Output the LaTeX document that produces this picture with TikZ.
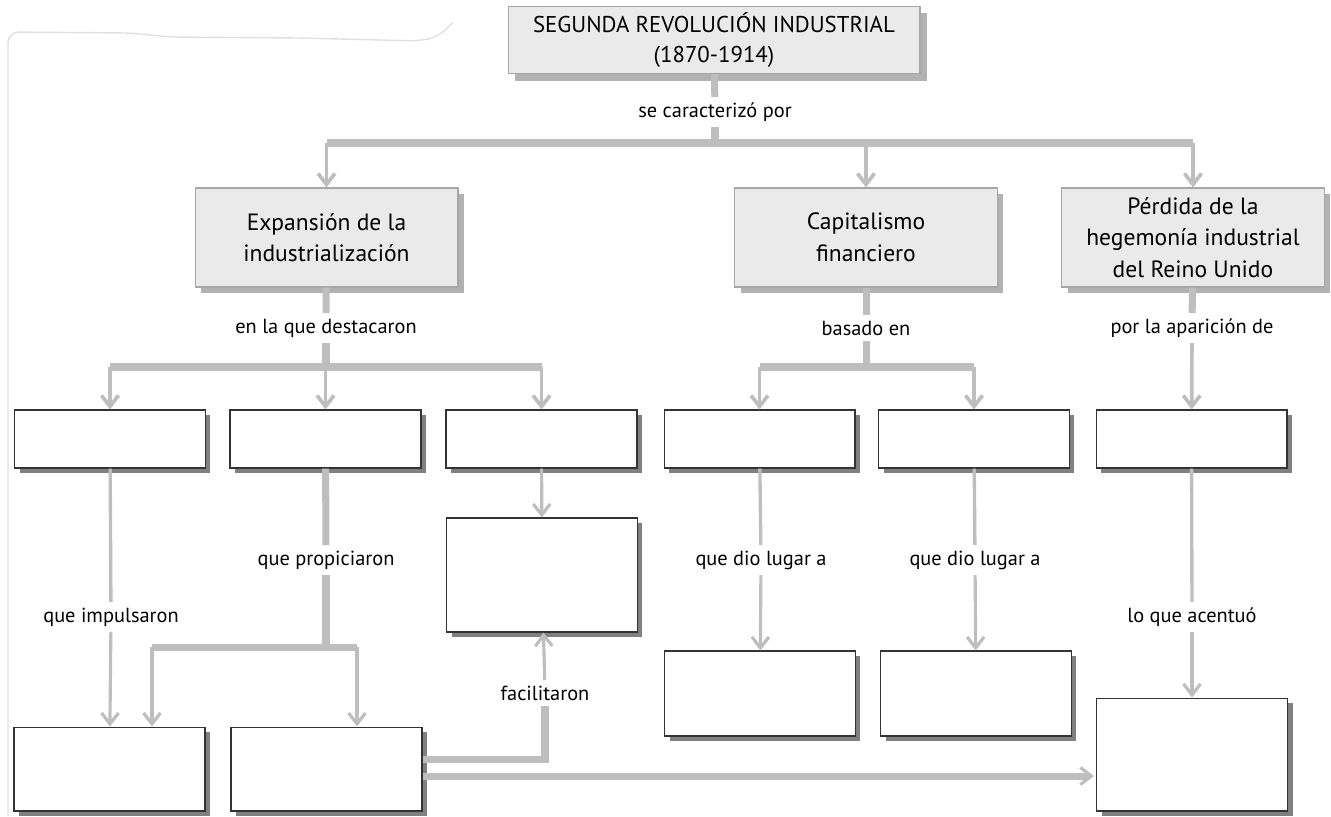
\documentclass[tikz,border=0pt]{standalone}
\usepackage{fontspec}
\setmainfont{PT Sans}
\usetikzlibrary{arrows.meta,shadows}
\definecolor{linkgray}{RGB}{190,190,190}
\definecolor{boxgray}{RGB}{234,234,234}
\tikzset{
  titlebox/.style={draw=black!35, fill=boxgray, line width=0.6pt, align=center,
    font=\fontsize{13}{17.5}\selectfont, minimum width=8.24cm, minimum height=1.28cm,
    drop shadow={shadow xshift=1.4mm, shadow yshift=-1.4mm, fill=black!30, opacity=1}},
  headbox/.style={draw=black!35, fill=boxgray, line width=0.6pt, align=center,
    font=\fontsize{13.4}{18}\selectfont, minimum width=5.26cm, minimum height=1.98cm,
    drop shadow={shadow xshift=1.2mm, shadow yshift=-1.2mm, fill=black!30, opacity=1}},
  emptybox/.style={draw=black!80, fill=white, line width=0.6pt, minimum width=3.82cm,
    drop shadow={shadow xshift=1mm, shadow yshift=-1mm, fill=black!50, opacity=1}},
  linklabel/.style={font=\fontsize{11.6}{13}\selectfont, inner sep=3pt},
  thickline/.style={draw=linkgray, line width=4pt},
  thinline/.style={draw=linkgray, line width=1.9pt},
  drop/.style={draw=linkgray, line width=2.1pt, -{Straight Barb[length=2.2mm,width=3.4mm]}},
  thindrop/.style={draw=linkgray, line width=1.8pt, -{Straight Barb[length=2.2mm,width=3.4mm]}},
  pageedge/.style={draw=black!12, line width=0.8pt, rounded corners=6pt},
}
\begin{document}
\begin{tikzpicture}[x=0.02cm, y=-0.02cm]
  \useasboundingbox (0,0) rectangle (1331,816);
  % borde del papel
  \draw[pageedge] (8,816) -- (8,32) -- (130,33) -- (170,37) -- (300,38) -- (420,41) -- (440,36) -- (453,22);

  % nivel 1 y 2
  \node[titlebox] (title) at (714,40) {SEGUNDA REVOLUCIÓN INDUSTRIAL\\(1870-1914)};
  \node[linklabel] (carac) at (715,112) {se caracterizó por};
  \node[headbox] (expa) at (326.5,237.5) {Expansión de la\\industrialización};
  \node[headbox] (capi) at (866,237.5) {Capitalismo\\financiero};
  \node[headbox] (perd) at (1193,237.5) {Pérdida de la\\hegemonía industrial\\del Reino Unido};
  \node[linklabel] (dest) at (326,328) {en la que destacaron};
  \node[linklabel] (basa) at (866,328) {basado en};
  \node[linklabel] (apar) at (1192,328) {por la aparición de};

  % casillas vacías
  \node[emptybox, minimum height=1.16cm] (b1) at (110,439) {};
  \node[emptybox, minimum height=1.16cm] (b2) at (325.5,439) {};
  \node[emptybox, minimum height=1.16cm] (b3) at (541.5,439) {};
  \node[emptybox, minimum height=1.16cm] (b4) at (759.5,439) {};
  \node[emptybox, minimum height=1.16cm] (b5) at (974,439) {};
  \node[emptybox, minimum height=1.16cm] (b6) at (1191.5,439) {};
  \node[emptybox, minimum height=2.28cm] (b7) at (542,575) {};
  \node[emptybox, minimum height=1.7cm] (c1) at (760,693.5) {};
  \node[emptybox, minimum height=1.7cm] (c2) at (976,693.5) {};
  \node[emptybox, minimum height=2.26cm] (b8) at (1192,754.5) {};
  \node[emptybox, minimum height=1.68cm] (b9) at (109.5,769) {};
  \node[emptybox, minimum height=1.68cm] (b10) at (326.5,769) {};

  \node[linklabel] (impu) at (111,617) {que impulsaron};
  \node[linklabel] (propi) at (326,560) {que propiciaron};
  \node[linklabel] (dio1) at (761,560) {que dio lugar a};
  \node[linklabel] (dio2) at (975,560) {que dio lugar a};
  \node[linklabel] (acen) at (1192,617) {lo que acentuó};
  \node[linklabel] (faci) at (545,693) {facilitaron};

  \coordinate (j0) at (715,143);
  \coordinate (j1) at (326,367);
  \coordinate (j2) at (866,367);
  \coordinate (p1) at (152,647);
  \coordinate (p2) at (357,647);
  \coordinate (l1) at (1094,776);
  \coordinate (f1) at (545,759);

  % conectores
  \draw[thickline] (title) -- (carac);
  \draw[thickline] (carac) -- (j0);
  \draw[thickline] (expa.north |- j0) -- (perd.north |- j0);
  \draw[drop] (expa.north |- j0) -- (expa.north);
  \draw[drop] (capi.north |- j0) -- (capi.north);
  \draw[drop] (perd.north |- j0) -- (perd.north);

  \draw[thickline] (expa) -- (dest);
  \draw[thickline] (dest) -- (j1);
  \draw[thickline] (b1.north |- j1) -- (b3.north |- j1);
  \draw[drop] (b1.north |- j1) -- (b1.north);
  \draw[drop] (b2.north |- j1) -- (b2.north);
  \draw[drop] (b3.north |- j1) -- (b3.north);

  \draw[thickline] (capi) -- (basa);
  \draw[thickline] (basa) -- (j2);
  \draw[thickline] (b4.north |- j2) -- (b5.north |- j2);
  \draw[drop] (b4.north |- j2) -- (b4.north);
  \draw[drop] (b5.north |- j2) -- (b5.north);

  \draw[thickline] (perd) -- (apar);
  \draw[drop] (apar) -- (b6);

  \draw[thinline] (b1) -- (impu);
  \draw[thindrop] (impu) -- (b9);
  \draw[thickline] (b2) -- (propi);
  \draw[thickline] (propi) -- (propi |- p1);
  \draw[thickline] (p1) -- (p2);
  \draw[thindrop] (p1) -- (p1 |- b9.north);
  \draw[thindrop] (p2) -- (p2 |- b10.north);
  \draw[thindrop] (b3) -- (b7);

  \draw[thinline] (b4) -- (dio1);
  \draw[thindrop] (dio1) -- (c1);
  \draw[thinline] (b5) -- (dio2);
  \draw[thindrop] (dio2) -- (c2);
  \draw[thinline] (b6) -- (acen);
  \draw[thindrop] (acen) -- (b8);

  \draw[thickline] (b10.east |- f1) -| (faci);
  \draw[thindrop] (faci) -- (b7);
  \draw[thickline, -{Straight Barb[length=2.2mm,width=3.4mm,line width=1.8pt]}] (b10.east |- l1) -- (l1);
\end{tikzpicture}
\end{document}
